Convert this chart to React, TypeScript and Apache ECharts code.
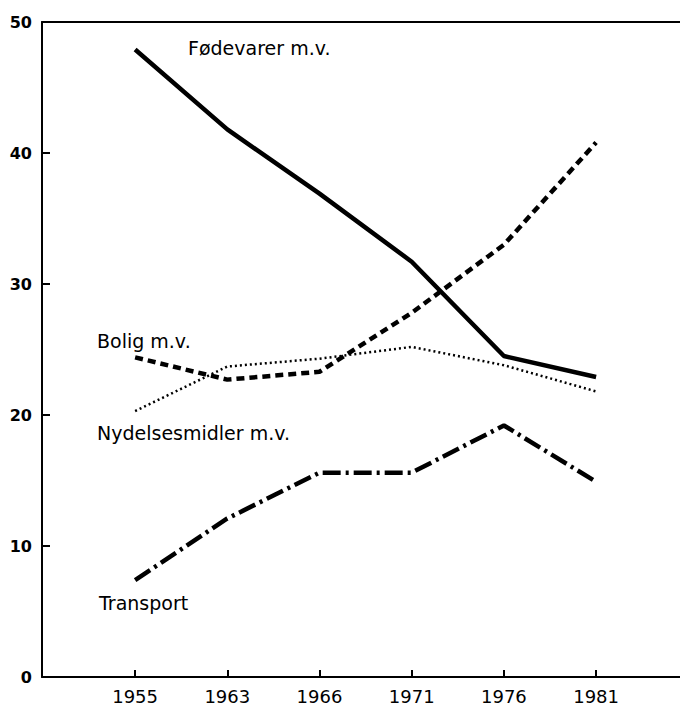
import React, { useEffect, useRef } from "react";
import * as echarts from "echarts";

const years = ["1955", "1963", "1966", "1971", "1976", "1981"];
const fodevarer = [47.9, 41.8, 36.9, 31.7, 24.5, 22.9];
const bolig = [24.4, 22.7, 23.3, 27.8, 33.0, 40.8];
const nydelse = [20.3, 23.7, 24.3, 25.2, 23.8, 21.8];
const transport = [7.4, 12.1, 15.6, 15.6, 19.2, 14.9];
const yTicks = [0, 10, 20, 30, 40, 50];

const toPts = (arr: number[]) => arr.map((v, i) => [i, v]);

export default function App() {
  const ref = useRef<HTMLDivElement>(null);
  useEffect(() => {
    if (!ref.current) return;
    const chart = echarts.init(ref.current, null, { renderer: "svg" });
    const font = "DejaVu Sans";
    const lineBase = { type: "line", symbol: "none", silent: true, xAxisIndex: 0, yAxisIndex: 0 } as any;
    const xMin = -1.01;
    const xMax = 5.91;
    chart.setOption({
      animation: false,
      backgroundColor: "#fff",
      grid: {
        left: 42,
        right: 0,
        top: 22,
        bottom: 31,
        show: false,
      },
      xAxis: [
        {
          type: "value",
          min: xMin,
          max: xMax,
          axisLine: { show: true, onZero: false, lineStyle: { color: "#000", width: 2 } },
          axisTick: {
            show: true,
            inside: true,
            length: 7,
            customValues: years.map((_, i) => i),
            lineStyle: { color: "#000", width: 2 },
          },
          axisLabel: {
            customValues: years.map((_, i) => i),
            formatter: (v: number) => years[Math.round(v)] ?? "",
            color: "#000",
            fontFamily: font,
            fontSize: 18,
            margin: 10,
          },
          splitLine: { show: false },
        },
        {
          type: "value",
          position: "top",
          min: xMin,
          max: xMax,
          axisLine: { show: true, onZero: false, lineStyle: { color: "#000", width: 2 } },
          axisTick: { show: false },
          axisLabel: { show: false },
          splitLine: { show: false },
        },
      ],
      yAxis: {
        type: "value",
        min: yTicks[0],
        max: yTicks[yTicks.length - 1],
        interval: 10,
        axisLine: { show: true, onZero: false, lineStyle: { color: "#000", width: 2 } },
        axisTick: { show: true, inside: true, length: 8, lineStyle: { color: "#000", width: 2 } },
        axisLabel: {
          color: "#000",
          fontFamily: font,
          fontSize: 16,
          fontWeight: "bold",
          margin: 10,
        },
        splitLine: { show: false },
      },
      series: [
        {
          ...lineBase,
          name: "Fødevarer m.v.",
          data: toPts(fodevarer),
          lineStyle: { color: "#000", width: 4.5, type: "solid" },
        },
        {
          ...lineBase,
          name: "Bolig m.v.",
          data: toPts(bolig),
          lineStyle: { color: "#000", width: 4.5, type: [8, 5] },
        },
        {
          ...lineBase,
          name: "Nydelsesmidler m.v.",
          data: toPts(nydelse),
          lineStyle: { color: "#000", width: 2.5, type: [2, 3] },
        },
        {
          ...lineBase,
          name: "Transport",
          data: toPts(transport),
          lineStyle: { color: "#000", width: 4.5, type: [18, 5, 3, 5] },
        },
      ],
      graphic: [
        { type: "text", left: 188, top: 38, style: { text: "Fødevarer m.v.", font: `19px "${font}"`, fill: "#000" } },
        { type: "text", left: 97, top: 331, style: { text: "Bolig m.v.", font: `19px "${font}"`, fill: "#000" } },
        { type: "text", left: 97, top: 423, style: { text: "Nydelsesmidler m.v.", font: `19px "${font}"`, fill: "#000" } },
        { type: "text", left: 99, top: 593, style: { text: "Transport", font: `19px "${font}"`, fill: "#000" } },
      ],
    });
    return () => chart.dispose();
  }, []);
  return (
    <div
      ref={ref}
      style={{ position: "fixed", left: 0, top: 0, width: 680, height: 708 }}
    />
  );
}
